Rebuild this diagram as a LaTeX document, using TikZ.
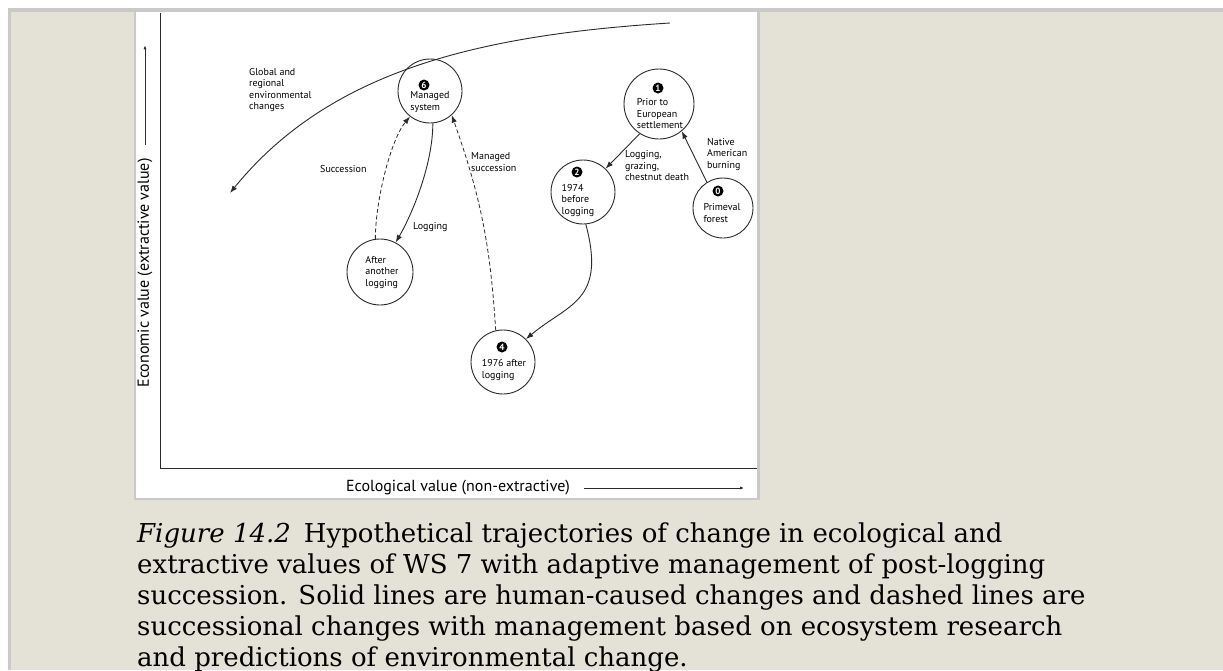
\documentclass[tikz,border=0pt]{standalone}
\usepackage{fontspec}
\setmainfont{DejaVu Serif}
\newfontfamily\figfont{PT Sans}
\usetikzlibrary{arrows.meta}
\definecolor{pagebg}{HTML}{E4E1D7}
\definecolor{rimgray}{HTML}{C9C9C9}
\definecolor{ink}{HTML}{2B2B2B}

\begin{document}
\begin{tikzpicture}[
    x=1pt, y=1pt,
    site/.style={draw=ink, circle, line width=0.9pt, minimum size=64pt, inner sep=0pt},
    num/.style={circle, fill=black, text=white, inner sep=0pt, minimum size=11pt, font=\figfont\bfseries\fontsize{9}{9}\selectfont},
    txt/.style={align=left, inner sep=0pt, font=\figfont\fontsize{10}{11.5}\selectfont},
    human/.style={draw=ink, line width=0.9pt, -{Latex[length=7.5pt,width=5.5pt]}},
    natural/.style={draw=ink, line width=0.8pt, dash pattern=on 4pt off 2.5pt, -{Latex[length=7.5pt,width=5.5pt]}},
    axis/.style={draw=ink, line width=1pt},
    axlabel/.style={inner sep=0pt, font=\figfont\fontsize{16}{16}\selectfont},
  ]
  \useasboundingbox (0,0) rectangle (1223,-670);
  \fill[white] (0,0) rectangle (1223,-670);
  \fill[rimgray] (8,-8) rectangle (1223,-670);
  \fill[pagebg] (11,-12) rectangle (1223,-670);
  \fill[rimgray] (134,-12) rectangle (760,-500);
  \fill[white] (136,-12) rectangle (757,-498);

  \draw[axis] (160,-13) -- (160,-468) -- (757,-468);
  \node[axlabel] (xl) at (458,-488) {Ecological value (non-extractive)};
  \node[axlabel, rotate=90] (yl) at (145,-273) {Economic value (extractive value)};
  \draw[line width=0.8pt, draw=ink, -{Latex[length=4pt,width=3pt]}] ([xshift=14pt]xl.east) -- ++(160,0);
  \draw[line width=0.8pt, draw=ink, -{Latex[length=4pt,width=3pt]}] ([yshift=13pt]yl.east) -- ++(0,100);

  \node[site] (n6) at (430,-91) {};
  \node[num] (b6) at (424,-85) {6};
  \node[txt] (t6) at (430,-102) {Managed\\system};

  \node[site, minimum size=70pt] (n1) at (659,-104) {};
  \node[num] (b1) at (658,-88) {1};
  \node[txt] (t1) at (660,-114) {Prior to\\European\\settlement};

  \node[site] (n2) at (583,-192) {};
  \node[num] (b2) at (577,-172) {2};
  \node[txt] (t2) at (578,-200) {1974\\before\\logging};

  \node[site] (n4) at (503,-362) {};
  \node[num] (b4) at (502,-347) {4};
  \node[txt] (t4) at (504,-370) {1976 after\\logging};

  \node[site, minimum size=60pt] (n0) at (723,-208) {};
  \node[num] (b0) at (718,-191) {0};
  \node[txt] (t0) at (722,-213) {Primeval\\forest};

  \node[site, minimum size=66pt] (na) at (380,-272) {};
  \node[txt] (ta) at (382,-272) {After\\another\\logging};

  \coordinate (gtop) at (670,-23);
  \coordinate (gend) at (230,-193);
  \draw[human] (gtop) .. controls (480,-35) and (330,-70) .. (gend);
  \node[txt, anchor=west] (lg) at (249,-90) {Global and\\regional\\environmental\\changes};

  \draw[natural] (na.98) .. controls +(90:38) and +(230:30) .. (n6.232);
  \node[txt, anchor=west] (ls) at (320,-169) {Succession};
  \draw[human] (n6.275) .. controls +(270:40) and +(60:35) .. (na.62);
  \node[txt, anchor=west] (ll) at (413,-227) {Logging};
  \draw[natural] (n4.103) to[bend right=8] (n6.312);
  \node[txt, anchor=west] (lm) at (471,-162) {Managed\\succession};
  \draw[human] (n1.237) -- (n2.46);
  \node[txt, anchor=west] (lc) at (625,-166) {Logging,\\grazing,\\chestnut death};
  \draw[human] (n0.122) -- (n1.310);
  \node[txt, anchor=west] (lb) at (707,-154) {Native\\American\\burning};
  \draw[human] (n2.275) .. controls +(285:80) and +(40:55) .. (n4.45);

  \node[anchor=north west, inner sep=0pt, align=left, font=\fontsize{26}{30.8}\selectfont] (cap) at (137,-523)
    {\textit{Figure 14.2}\enspace Hypothetical trajectories of change in ecological and\\
     extractive values of WS 7 with adaptive management of post-logging\\
     succession. Solid lines are human-caused changes and dashed lines are\\
     successional changes with management based on ecosystem research\\
     and predictions of environmental change.};
\end{tikzpicture}
\end{document}
